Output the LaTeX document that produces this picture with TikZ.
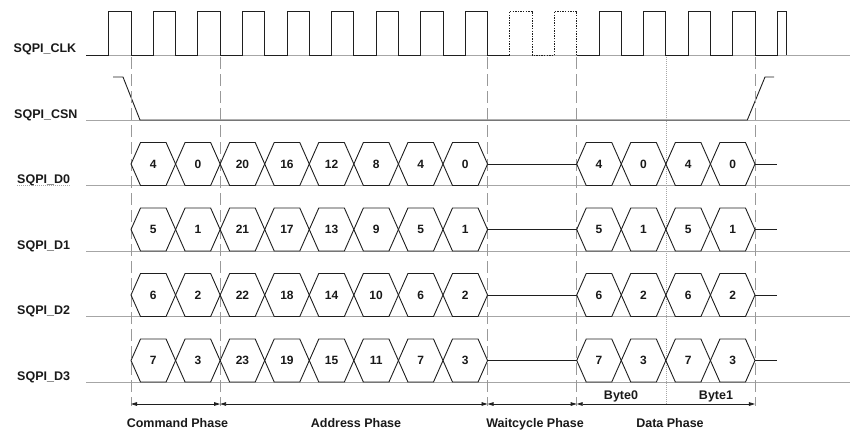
\documentclass[tikz,border=0pt]{standalone}
\usepackage{fontspec}
\setmainfont{Liberation Sans}
\usetikzlibrary{arrows.meta}
\begin{document}
\begin{tikzpicture}[x=1pt,y=-1pt,
  sig/.style={draw=black!88, line width=0.9pt, line join=miter},
  dotsig/.style={draw=black!88, line width=0.9pt, dash pattern=on 1.4pt off 1.2pt},
  baseline/.style={draw=black!35, line width=0.8pt},
  guide/.style={draw=black!40, line width=0.8pt, dash pattern=on 12pt off 5pt},
  fineguide/.style={draw=black!35, line width=0.6pt, dash pattern=on 1pt off 1pt},
  lbl/.style={font=\fontsize{12.5}{14}\selectfont\bfseries, text=black!90, inner sep=0pt},
  num/.style={font=\fontsize{12}{13}\selectfont\bfseries, text=black!90, inner sep=0pt},
  span/.style={draw=black!88, line width=0.8pt, {Triangle[length=6pt,width=3.6pt]}-{Triangle[length=6pt,width=3.6pt]}}
]
\useasboundingbox (0,0) rectangle (850,432);

% gray baselines
\foreach \yb in {55,120,185.5,251,316.5,382}{
  \draw[baseline] (86,\yb) -- (850,\yb);
}

% signal labels
\node[lbl, anchor=base west] (lclk) at (13.5,52.3) {SQPI\_CLK};
\node[lbl, anchor=base west] (lcsn) at (14,118.3) {SQPI\_CSN};
\node[lbl, anchor=base west] (ld0) at (17,183.3) {SQPI\_D0};
\node[lbl, anchor=base west] (ld1) at (17,249.5) {SQPI\_D1};
\node[lbl, anchor=base west] (ld2) at (17,314) {SQPI\_D2};
\node[lbl, anchor=base west] (ld3) at (17,380) {SQPI\_D3};
\draw[fineguide] (ld0.south west) ++(0,-0.5) -- ([yshift=0.5pt]ld0.south east);

% clock
\draw[sig] (86,55)
  \foreach \k in {0,...,8} { -- ({108.715+44.57*\k},55) -- ++(0,-44) -- ++(22.285,0) -- ++(0,44) }
  -- (509.845,55);
\draw[dotsig] (509.845,55) -- (509.845,11) -- (532.13,11) -- (532.13,55)
  -- (554.415,55) -- (554.415,11) -- (576.7,11) -- (576.7,55);
\draw[sig] (576.7,55)
  \foreach \k in {11,...,14} { -- ({108.715+44.57*\k},55) -- ++(0,-44) -- ++(22.285,0) -- ++(0,44) }
  -- (777.265,55) -- (777.265,11) -- (786.7,11) -- (786.7,55);

% chip select
\draw[sig] (113,77) -- (123,77) -- (140,120) -- (747.3,120) -- (765,77) -- (774,77);

% phase guide lines
\foreach \n/\x in {g0/131,g1/220.14,g2/487.56,g3/576.7,g4/754.98}{
  \coordinate (\n t) at (\x,57);
  \coordinate (\n b) at (\x,406);
  \coordinate (\n a) at (\x,404);
}
\coordinate (gmt) at (665.84,57);
\coordinate (gmb) at (665.84,405);
\foreach \n in {g0,g1,g2,g3,g4}{ \draw[guide] (\n t) -- (\n b); }
\draw[fineguide] (gmt) -- (gmb);

% data lines
\foreach \r in {0,...,3}{
  \pgfmathsetmacro\ym{164+65.5*\r}
  \foreach \k/\v in {0/4,1/0,2/20,3/16,4/12,5/8,6/4,7/0,10/4,11/0,12/4,13/0}{
    \pgfmathsetmacro\xa{131+44.57*\k}
    \pgfmathsetmacro\xb{\xa+44.57}
    \pgfmathtruncatemacro\val{\v+\r}
    \draw[sig] (\xa,\ym) -- (\xa+9.5,\ym-21.5) -- (\xb-9.5,\ym-21.5) -- (\xb,\ym)
      -- (\xb-9.5,\ym+21.5) -- (\xa+9.5,\ym+21.5) -- cycle;
    \node[num] (h\r-\k) at ({(\xa+\xb)/2},\ym) {\val};
  }
  \draw[sig] (487.56,\ym) -- (576.7,\ym);
  \draw[sig] (754.98,\ym) -- (777,\ym);
}

% phase spans
\draw[span] (g0a) -- (g1a);
\draw[span] (g1a) -- (g2a);
\draw[span] (g2a) -- (g3a);
\draw[span] (g3a) -- (g4a);

\node[lbl, anchor=base] (b0) at (621,399.5) {Byte0};
\node[lbl, anchor=base] (b1) at (716,399.5) {Byte1};
\node[lbl, anchor=base] (pc) at (177.5,427.5) {Command Phase};
\node[lbl, anchor=base] (pa) at (356,427.5) {Address Phase};
\node[lbl, anchor=base] (pw) at (535,427.5) {Waitcycle Phase};
\node[lbl, anchor=base] (pd) at (670,427.5) {Data Phase};
\end{tikzpicture}
\end{document}
